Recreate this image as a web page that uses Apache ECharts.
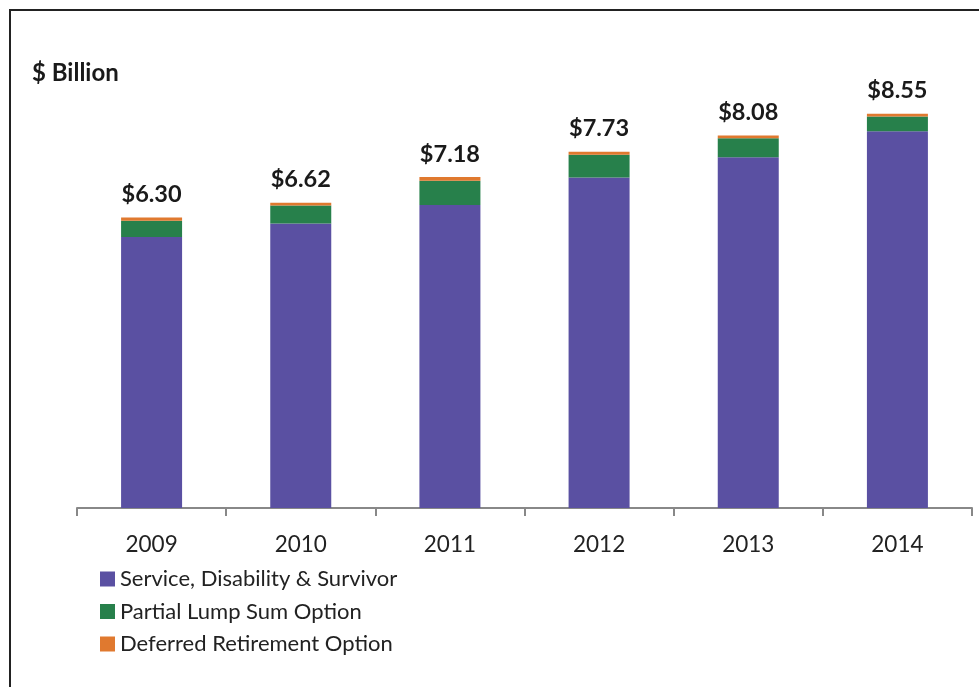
<!DOCTYPE html>
<html lang="en" style="height: 100%">
<head>
  <meta charset="utf-8">
  <title>$ Billion</title>
</head>
<body style="height: 100%; margin: 0">
  <div id="container" style="height: 100%"></div>
  <script type="text/javascript" src="https://cdn.jsdelivr.net/npm/echarts@6/dist/echarts.min.js"></script>
  <script type="text/javascript">
    var dom = document.getElementById('container');
    var myChart = echarts.init(dom, null, { renderer: 'canvas' });

    // data
    const years = ['2009', '2010', '2011', '2012', '2013', '2014'];
    const service = [5.88, 6.17, 6.57, 7.17, 7.61, 8.17];
    const lumpSum = [0.35, 0.39, 0.53, 0.49, 0.41, 0.32];
    const deferred = [0.07, 0.06, 0.08, 0.07, 0.06, 0.06];
    const totals = ['$6.30', '$6.62', '$7.18', '$7.73', '$8.08', '$8.55'];

    const font = 'Lato, "Open Sans", sans-serif';

    var option = {
      animation: false,
      textStyle: { fontFamily: font },
      graphic: [
        {
          type: 'rect',
          shape: { x: 10, y: 10, width: 1000, height: 700 },
          style: { fill: 'none', stroke: '#222', lineWidth: 2 }
        },
        {
          type: 'text',
          left: 32,
          top: 61,
          style: {
            text: '$ Billion',
            font: 'bold 24px ' + font,
            fill: '#1a1a1a'
          }
        }
      ],
      grid: { left: 77, right: 7, top: 47, bottom: 179 },
      legend: {
        orient: 'vertical',
        left: 100,
        top: 568,
        padding: 0,
        itemWidth: 15,
        itemHeight: 15,
        itemGap: 10.5,
        icon: 'rect',
        textStyle: { fontSize: 22, color: '#222', fontFamily: font, lineHeight: 22 },
        data: ['Service, Disability & Survivor', 'Partial Lump Sum Option', 'Deferred Retirement Option']
      },
      xAxis: {
        type: 'category',
        data: years,
        axisLine: { lineStyle: { color: '#888', width: 2 } },
        axisTick: { show: true, length: 8, lineStyle: { color: '#888', width: 2 } },
        axisLabel: { fontSize: 22.5, color: '#222', margin: 25, fontFamily: font }
      },
      yAxis: {
        type: 'value',
        min: 0,
        max: 10,
        show: false,
        splitLine: { show: false }
      },
      series: [
        {
          name: 'Service, Disability & Survivor',
          type: 'bar',
          stack: 'total',
          barWidth: 61,
          itemStyle: { color: '#5A50A2' },
          data: service
        },
        {
          name: 'Partial Lump Sum Option',
          type: 'bar',
          stack: 'total',
          itemStyle: { color: '#27804B' },
          data: lumpSum
        },
        {
          name: 'Deferred Retirement Option',
          type: 'bar',
          stack: 'total',
          itemStyle: { color: '#E0792F' },
          label: {
            show: true,
            position: 'top',
            distance: 11,
            fontSize: 23.5,
            fontWeight: 'bold',
            color: '#1a1a1a',
            fontFamily: font,
            formatter: function (p) { return totals[p.dataIndex]; }
          },
          data: deferred
        }
      ]
    };

    myChart.setOption(option);
    window.addEventListener('resize', myChart.resize);
  </script>
</body>
</html>
